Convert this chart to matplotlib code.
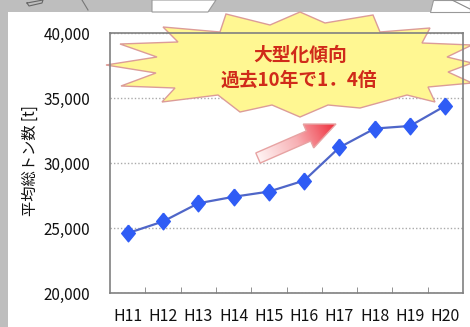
import numpy as np
import matplotlib
matplotlib.use("Agg")
import matplotlib.pyplot as plt
from matplotlib.patches import Polygon, Rectangle
from matplotlib.transforms import Affine2D
from matplotlib.ticker import FuncFormatter
from matplotlib.colors import LinearSegmentedColormap

plt.rcParams['font.family'] = ['Noto Sans CJK JP', 'DejaVu Sans']

# data
years = ['H11', 'H12', 'H13', 'H14', 'H15', 'H16', 'H17', 'H18', 'H19', 'H20']
tonnage = [24600, 25500, 26900, 27400, 27800, 28650, 31200, 32650, 32850, 34400]
y_ticks = [20000, 25000, 30000, 35000, 40000]
ylabel = '平均総トン数 [t]'
callout_1 = '大型化傾向'
callout_2 = '過去10年で1．4倍'

W, H = 470, 327
fig = plt.figure(figsize=(W / 100, H / 100), dpi=100, facecolor='#bebebe')
# pixel coordinates (origin top-left) for the decorations
px = Affine2D().scale(1 / W, -1 / H).translate(0, 1) + fig.transFigure

# background: screenshot-like gray strip and white panel
axb = fig.add_axes([0, 0, 1, 1], zorder=-1)
axb.set_xlim(0, W)
axb.set_ylim(H, 0)
axb.axis('off')
axb.add_patch(Rectangle((8, 12), W, H, facecolor='white', edgecolor='none'))
axb.add_patch(Polygon([(152, 0), (216, 0), (212, 6), (208, 12), (152, 12)],
                      facecolor='white', edgecolor='#999999', lw=0.8))
axb.add_patch(Polygon([(433, 0), (470, 0), (470, 12), (430, 12)],
                      facecolor='white', edgecolor='#999999', lw=0.8))
axb.plot([27, 43, 42, 29, 27], [3, 0, 3, 6, 3], color='#666666', lw=0.8)
axb.plot([82, 88], [0, 10], color='#777777', lw=0.8)
axb.plot([452, 470], [0, 9], color='#888888', lw=0.8)

# main chart
ax = fig.add_axes([110 / W, 1 - 293 / H, (463 - 110) / W, (293 - 33) / H], zorder=1)
ax.set_facecolor('white')
x = np.arange(len(years))
diamond = [(0, 1), (0.82, 0), (0, -1), (-0.82, 0), (0, 1)]
ax.plot(x, tonnage, color='#4f66c8', lw=1.6, marker=diamond, ms=12,
        mfc='#2f5cf5', mec='#2f5cf5', zorder=4, clip_on=False)
ax.set_xlim(-0.5, len(years) - 0.5)
ax.set_ylim(y_ticks[0], y_ticks[-1])
ax.set_yticks(y_ticks)
ax.yaxis.set_major_formatter(FuncFormatter(lambda v, p: f'{v:,.0f}'))
ax.set_xticks(x, years)
ax.set_xticks(x[:-1] + 0.5, minor=True)
ax.tick_params(axis='both', which='major', length=0, labelsize=11, colors='#111111')
ax.tick_params(axis='x', which='major', pad=11, labelsize=11.5)
ax.tick_params(axis='y', which='major', pad=14)
ax.tick_params(axis='x', which='minor', direction='in', length=4, color='#808080')
ax.yaxis.grid(True, linestyle=(0, (1, 1.5)), color='#aaaaaa', lw=1)
ax.set_axisbelow(True)
for s in ax.spines.values():
    s.set_color('#808080')
    s.set_linewidth(1.2)
    s.set_zorder(6)

ax.text(30, 161, ylabel, transform=px, rotation=90, ha='center', va='center',
        fontsize=11, color='#111111')

# starburst callout
star = [(163, 27), (178, 42), (120, 44), (157, 57), (106, 65), (156, 73),
        (121, 86), (175, 88), (162, 102), (218, 95), (240, 112), (272, 105),
        (300, 117), (328, 105), (360, 108), (407, 95), (435, 102), (428, 87),
        (472, 83), (448, 72), (472, 63), (447, 57), (472, 45), (422, 43),
        (430, 28), (380, 32), (373, 15), (325, 23), (300, 12), (270, 25),
        (226, 14), (220, 32)]
ax.add_patch(Polygon(star, closed=True, transform=px, facecolor='#fff792',
                     edgecolor='#dc9c98', lw=1.0, zorder=3, clip_on=False))
ax.text(300, 55, callout_1, transform=px, ha='center', va='center', fontsize=13.5,
        fontweight='bold', color='#d02a1a', zorder=5)
ax.text(299, 80, callout_2, transform=px, ha='center', va='center', fontsize=13.5,
        fontweight='bold', color='#d02a1a', zorder=5)

# gradient block arrow
axo = fig.add_axes([0, 0, 1, 1], zorder=5)
axo.set_xlim(0, W)
axo.set_ylim(H, 0)
axo.axis('off')
axo.patch.set_alpha(0)
tail = np.array([258.0, 158.0])
tip = np.array([336.0, 124.0])
d = tip - tail
L = np.hypot(*d)
u = d / L
n = np.array([-u[1], u[0]])
base = tip - u * 30
sw, hw = 5.5, 13
arrow = [tail + n * sw, base + n * sw, base + n * hw, tip, base - n * hw,
         base - n * sw, tail - n * sw]
gx, gy = np.meshgrid(np.arange(W) + 0.5, np.arange(H) + 0.5)
t = np.clip(((gx - tail[0]) * u[0] + (gy - tail[1]) * u[1]) / L, 0, 1)
cmap = LinearSegmentedColormap.from_list('arr', ['#fff4f4', '#f7b0b4', '#ef2c3a'])
im = axo.imshow(t, cmap=cmap, extent=(0, W, H, 0), aspect='auto', vmin=0, vmax=1,
                interpolation='bilinear')
poly = Polygon(arrow, closed=True, facecolor='none', edgecolor='#e7a3a3', lw=1)
axo.add_patch(poly)
im.set_clip_path(poly)
axo.set_xlim(0, W)
axo.set_ylim(H, 0)

fig.savefig('out.png', dpi=100, facecolor=fig.get_facecolor())
